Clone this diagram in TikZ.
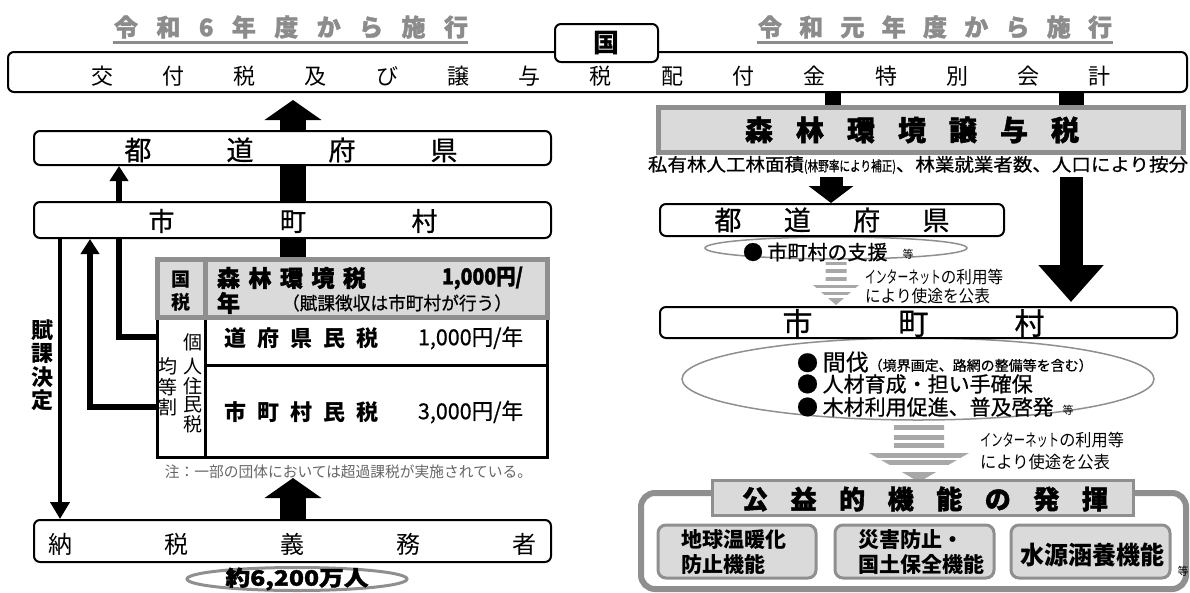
\documentclass[tikz,border=0pt]{standalone}
\usepackage{fontspec}
\setmainfont{Noto Sans CJK JP}
\newfontfamily\heavy{Noto Sans CJK JP}[BoldFeatures={FakeBold=1.6}]
\newfontfamily\medf{Noto Sans CJK JP}[FakeBold=0.7]
\usetikzlibrary{arrows.meta,shapes.geometric,calc}
\pgfdeclarelayer{bg}
\pgfsetlayers{bg,main}
\definecolor{hgray}{HTML}{8C8C8C}
\definecolor{fgray}{HTML}{DADADA}
\definecolor{bgray}{HTML}{8F8F8F}
\definecolor{sgray}{HTML}{A8A8A8}
\definecolor{ngray}{HTML}{666666}
\newcommand\fs[1]{\fontsize{#1pt}{#1pt}\selectfont}
\newcommand\fitw[2]{\resizebox{#1}{\height}{#2}}
\begin{document}
\begin{tikzpicture}[x=1pt,y=-1pt,
  rbox/.style={draw, line width=2pt, rounded corners=6pt, fill=white, inner sep=0pt},
  gbox/.style={draw=bgray, fill=fgray, inner sep=0pt},
  ibox/.style={draw=bgray, fill=fgray, line width=3pt, rounded corners=8pt, inner sep=0pt, minimum height=53pt},
  oval/.style={ellipse, draw=bgray, line width=1.5pt, fill=white, inner sep=0pt},
  tx/.style={inner sep=0pt, outer sep=0pt},
  fatarrow/.style={line width=26pt, -{Triangle[width=56pt,length=20pt]}},
  medarrow/.style={line width=6pt, -{Triangle[width=18pt,length=15pt]}},
  thinarrow/.style={line width=4pt, -{Triangle[width=19pt,length=17pt]}},
  darrowA/.style={line width=23pt, -{Triangle[width=44pt,length=17pt]}},
  darrowB/.style={line width=23pt, -{Triangle[width=63pt,length=37pt]}},
  stripe/.style={fill=sgray}
]
\useasboundingbox (0,0) rectangle (1190,592);

% ---------- headings ----------
\node[tx, text=hgray, font=\heavy\bfseries\fs{24}] (h1) at (291,27)
  {\makebox[354pt]{令\hfill 和\hfill 6\hfill 年\hfill 度\hfill か\hfill ら\hfill 施\hfill 行}};
\draw[hgray, line width=3pt] (113,42) -- (468,42);
\node[tx, text=hgray, font=\heavy\bfseries\fs{24}] (h2) at (935,27)
  {\makebox[354pt]{令\hfill 和\hfill 元\hfill 年\hfill 度\hfill か\hfill ら\hfill 施\hfill 行}};
\draw[hgray, line width=3pt] (757,42) -- (1113,42);

% ---------- national special account ----------
\node[rbox, minimum width=1179pt, minimum height=40pt] (kofu) at (597.5,72) {};
\node[tx, font=\fs{22}] (kofut) at (601,76)
  {\makebox[1020pt]{交\hfill 付\hfill 税\hfill 及\hfill び\hfill 譲\hfill 与\hfill 税\hfill 配\hfill 付\hfill 金\hfill 特\hfill 別\hfill 会\hfill 計}};
\node[rbox, rounded corners=6pt, minimum width=103pt, minimum height=38pt] (kuni) at (606.5,43) {};
\node[tx, font=\bfseries\fs{26}] (kunit) at (606,43) {国};

% ---------- left column ----------
\node[rbox, minimum width=517pt, minimum height=34pt] (todoL) at (292.5,148) {};
\node[tx, font=\medf\fs{27}] (todoLt) at (291,150) {\makebox[333pt]{都\hfill 道\hfill 府\hfill 県}};
\node[rbox, minimum width=517pt, minimum height=36pt] (shiL) at (292.5,220) {};
\node[tx, font=\medf\fs{26}] (shiLt) at (293,221) {\makebox[289pt]{市\hfill 町\hfill 村}};

% table
\node[draw, line width=3pt, minimum width=390pt, minimum height=140pt, inner sep=0pt] (tblL) at (352,387) {};
\draw[line width=3pt] (205,317) -- (205,457);
\draw[line width=3pt] (205,365) -- (547,365);
\node[gbox, line width=5pt, minimum width=390pt, minimum height=58pt] (tblH) at (352,288) {};
\draw[bgray, line width=5pt] (205,259) -- (205,317);

\node[tx, font=\bfseries\fs{19}] (kz1) at (181,280) {国};
\node[tx, font=\bfseries\fs{19}] (kz2) at (181,302) {税};
\node[tx, anchor=west, font=\heavy\bfseries\fs{23}] (shinrin) at (217,278)
  {\makebox[149pt]{森\hfill 林\hfill 環\hfill 境\hfill 税}};
\node[tx, anchor=east, font=\heavy\bfseries\fs{22}] (sen1) at (523,278) {\fitw{81pt}{1,000円/}};
\node[tx, anchor=west, font=\heavy\bfseries\fs{23}] (nen) at (217,303) {年};
\node[tx, font=\medf\fs{18}] (fuka) at (397,303) {\fitw{230pt}{（賦課徴収は市町村が行う）}};
\node[tx, anchor=west, font=\bfseries\fs{22}] (dofu) at (224,338)
  {\makebox[155pt]{道\hfill 府\hfill 県\hfill 民\hfill 税}};
\node[tx, anchor=east, font=\medf\fs{22}] (sen2) at (523,338) {\fitw{105pt}{1,000円/年}};
\node[tx, anchor=west, font=\bfseries\fs{22}] (shim) at (224,412)
  {\makebox[155pt]{市\hfill 町\hfill 村\hfill 民\hfill 税}};
\node[tx, anchor=east, font=\medf\fs{22}] (sen3) at (523,412) {\fitw{105pt}{3,000円/年}};
\foreach \c/\y [count=\i] in {個/342,人/366,住/386,民/405,税/424}
  \node[tx, font=\fs{19}] (kj\i) at (193,\y) {\c};
\foreach \c/\y [count=\i] in {均/366,等/387,割/407}
  \node[tx, font=\fs{19}] (kt\i) at (168,\y) {\c};
\node[tx, font=\fs{15}, text=ngray] (chu) at (348.5,472)
  {\fitw{367pt}{注：一部の団体においては超過課税が実施されている。}};

\foreach \c/\y [count=\i] in {賦/330,課/353,決/377,定/400}
  \node[tx, font=\bfseries\fs{22}] (fk\i) at (42,\y) {\c};

\node[rbox, minimum width=517pt, minimum height=42pt] (nozei) at (292.5,541) {};
\node[tx, font=\fs{24}] (nozeit) at (292.5,544)
  {\makebox[488pt]{納\hfill 税\hfill 義\hfill 務\hfill 者}};
\node[oval, line width=3pt, minimum width=220pt, minimum height=23pt] (ninzu) at (297,579) {};
\node[tx, font=\heavy\bfseries\fs{21}] (ninzut) at (297,579) {\fitw{143pt}{約6,200万人}};

% ---------- right column ----------
\node[gbox, line width=5pt, minimum width=525pt, minimum height=45pt] (jouyo) at (920.5,129.5) {};
\node[tx, font=\heavy\bfseries\fs{28}] (jouyot) at (912,130)
  {\makebox[334pt]{森\hfill 林\hfill 環\hfill 境\hfill 譲\hfill 与\hfill 税}};
\node[tx, font=\medf\fs{18}] (haibun) at (918,165)
  {\fitw{540pt}{私有林人工林面積{\fs{14}\scalebox{0.7}[1]{(林野率により補正)}}、林業就業者数、人口により按分}};

\node[oval, minimum width=262pt, minimum height=22pt] (shien) at (836,248) {};
\node[rbox, minimum width=344pt, minimum height=32pt] (todoR) at (832,220) {};
\node[tx, font=\medf\fs{27}] (todoRt) at (832,220) {\makebox[235pt]{都\hfill 道\hfill 府\hfill 県}};
\node[tx, anchor=west, font=\medf\fs{20}] (shient) at (743,252) {● 市町村の支援};
\node[tx, font=\fs{11}] (shiento) at (908,254) {等};

% striped arrow 1
\begin{scope}
  \clip (825.5,261) -- (846.5,261) -- (846.5,285) -- (859,285) -- (836,305) -- (813,285) -- (825.5,285) -- cycle;
  \foreach \a/\b in {261.7/265,269.3/272.7,277.3/280.7,285/288.3,291.7/295,298.3/305}
    \fill[stripe] (800,\a) rectangle (880,\b);
\end{scope}
\node[tx, anchor=west, font=\fs{17}] (net1) at (865,277) {\fitw{138pt}{\scalebox{0.7}[1]{インターネット}の利用等}};
\node[tx, anchor=west, font=\fs{17}] (net2) at (865,296) {\fitw{125pt}{により使途を公表}};

\node[oval, minimum width=472pt, minimum height=82pt] (katsudo) at (918,379) {};
\node[rbox, minimum width=517pt, minimum height=31pt] (shiR) at (918.5,322.5) {};
\node[tx, font=\medf\fs{30}] (shiRt) at (913.5,323) {\makebox[262pt]{市\hfill 町\hfill 村}};
\node[tx, anchor=west, font=\medf\fs{21}] (b1) at (797,362) {● {\fs{23}間伐}{\fs{14}（境界画定、路網の整備等を含む）}};
\node[tx, anchor=west, font=\medf\fs{21}] (b2) at (797,384) {● 人材育成・担い手確保};
\node[tx, anchor=west, font=\medf\fs{21}] (b3) at (797,407) {● 木材利用促進、普及啓発};
\node[tx, font=\fs{11}] (b3o) at (1068,410) {等};

% striped arrow 2
\begin{scope}
  \clip (894,424) -- (944,424) -- (944,453) -- (969,453) -- (919,482) -- (869,453) -- (894,453) -- cycle;
  \foreach \a/\b in {425/430,435/440,443.3/448.3,453.3/458.3,460/465,471.7/482}
    \fill[stripe] (860,\a) rectangle (980,\b);
\end{scope}
\node[tx, anchor=west, font=\fs{17}] (net3) at (980,440) {\fitw{144pt}{\scalebox{0.7}[1]{インターネット}の利用等}};
\node[tx, anchor=west, font=\fs{17}] (net4) at (980,462) {\fitw{130pt}{により使途を公表}};

% public functions
\node[draw=bgray, line width=6pt, rounded corners=14pt, minimum width=545pt, minimum height=96pt, inner sep=0pt] (kouekiF) at (913.5,541) {};
\node[gbox, line width=3pt, minimum width=421pt, minimum height=35pt] (kouekiH) at (922.5,497.5) {};
\node[tx, font=\heavy\bfseries\fs{26}] (kouekiHt) at (925,499)
  {\makebox[366pt]{公\hfill 益\hfill 的\hfill 機\hfill 能\hfill の\hfill 発\hfill 揮}};
\node[ibox, minimum width=158pt] (k1) at (737,551.5) {};
\node[ibox, minimum width=159pt] (k2) at (914.5,551.5) {};
\node[ibox, minimum width=159pt] (k3) at (1090.5,551.5) {};
\node[tx, anchor=west, font=\bfseries\fs{21}] (k1a) at (681,540) {地球温暖化};
\node[tx, anchor=west, font=\bfseries\fs{21}] (k1b) at (681,564) {防止機能};
\node[tx, anchor=west, font=\bfseries\fs{21}] (k2a) at (858,540) {災害防止・};
\node[tx, anchor=west, font=\bfseries\fs{21}] (k2b) at (858,564) {国土保全機能};
\node[tx, font=\bfseries\fs{25}] (k3a) at (1092,555) {\fitw{144pt}{水源涵養機能}};
\node[tx, font=\fs{11}] (k3o) at (1183,571) {等};

% ---------- connectors (behind boxes) ----------
\begin{pgfonlayer}{bg}
  \coordinate (c1) at (293,100);
  \draw[fatarrow] (tblH.north -| c1) -- (c1);
  \coordinate (c2) at (119,337);
  \draw[medarrow] (tblL.west |- c2) -| (todoL.south -| c2);
  \coordinate (c3) at (90,407);
  \draw[medarrow] (tblL.west |- c3) -| (shiL.south -| c3);
  \coordinate (c4) at (60,0);
  \draw[thinarrow] (shiL.south -| c4) -- (nozei.north -| c4);
  \coordinate (c5) at (293,478);
  \draw[fatarrow] (nozei.north -| c5) -- (c5);
  \coordinate (r1) at (833,0);
  \draw[line width=16pt] (kofu.south -| r1) -- (jouyo.north -| r1);
  \coordinate (r2) at (1071,0);
  \draw[line width=25pt] (kofu.south -| r2) -- (jouyo.north -| r2);
  \coordinate (r3) at (831,177);
  \draw[darrowA] (r3) -- (todoR.north -| r3);
  \coordinate (r4) at (1071,177);
  \draw[darrowB, shorten >=4pt] (r4) -- (shiR.north -| r4);
\end{pgfonlayer}
\end{tikzpicture}
\end{document}
